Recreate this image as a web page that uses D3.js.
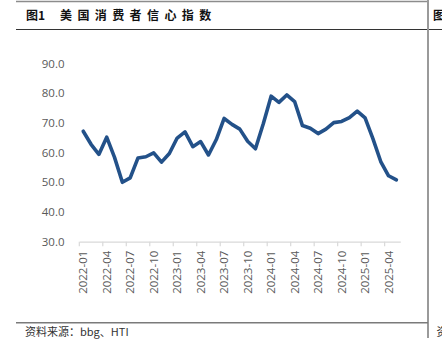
<!DOCTYPE html>
<html>
<head>
<meta charset="utf-8">
<script src="https://cdn.jsdelivr.net/npm/d3@7"></script>
<style>
  html, body { margin: 0; padding: 0; background: #fff; }
  svg { display: block; }
</style>
</head>
<body>
<svg id="chart" width="442" height="355"></svg>
<script>
// ---- data ----
const months = [
  "2022-01","2022-02","2022-03","2022-04","2022-05","2022-06","2022-07","2022-08","2022-09","2022-10","2022-11","2022-12",
  "2023-01","2023-02","2023-03","2023-04","2023-05","2023-06","2023-07","2023-08","2023-09","2023-10","2023-11","2023-12",
  "2024-01","2024-02","2024-03","2024-04","2024-05","2024-06","2024-07","2024-08","2024-09","2024-10","2024-11","2024-12",
  "2025-01","2025-02","2025-03","2025-04","2025-05"
];
const sentiment = [
  67.2, 62.8, 59.4, 65.2, 58.4, 50.0, 51.5, 58.2, 58.6, 59.9, 56.8, 59.7,
  64.9, 67.0, 62.0, 63.7, 59.2, 64.4, 71.5, 69.5, 67.9, 63.8, 61.3, 69.7,
  79.0, 76.9, 79.4, 77.2, 69.1, 68.2, 66.4, 67.9, 70.1, 70.5, 71.8, 74.0,
  71.7, 64.7, 57.0, 52.2, 50.8
];
const xTickLabels = ["2022-01","2022-04","2022-07","2022-10","2023-01","2023-04","2023-07","2023-10",
                     "2024-01","2024-04","2024-07","2024-10","2025-01","2025-04"];
const yTicks = [30, 40, 50, 60, 70, 80, 90];
const titleNum = "图1";
const titleText = "美国消费者信心指数";
const sourceText = "资料来源：bbg、HTI";

// ---- layout ----
const svg = d3.select("#chart");
const plot = { left: 79.3, right: 400.3, top: 63.5, bottom: 241.7 };

// frame lines
svg.append("line").attr("x1", 16).attr("x2", 428).attr("y1", 1.5).attr("y2", 1.5)
  .attr("stroke", "#8c8c8c").attr("stroke-width", 1.5);
svg.append("line").attr("x1", 16).attr("x2", 442).attr("y1", 29.5).attr("y2", 29.5)
  .attr("stroke", "#333").attr("stroke-width", 1.2);
svg.append("line").attr("x1", 428).attr("x2", 428).attr("y1", 0).attr("y2", 338)
  .attr("stroke", "#9a9a9a").attr("stroke-width", 2);
svg.append("line").attr("x1", 16).attr("x2", 428).attr("y1", 322.7).attr("y2", 322.7)
  .attr("stroke", "#7a7a7a").attr("stroke-width", 1.5);

// title
svg.append("text").attr("x", 26).attr("y", 19.5)
  .attr("font-family", "'Noto Sans CJK SC', sans-serif").attr("font-weight", "bold")
  .attr("font-size", "12px").attr("fill", "#111").text(titleNum);
svg.append("text").attr("x", 60).attr("y", 19.5)
  .attr("font-family", "'Noto Sans CJK SC', sans-serif").attr("font-weight", "bold")
  .attr("font-size", "12px").attr("letter-spacing", "5.4px").attr("fill", "#111").text(titleText);
// next panel fragments (cut off at the right edge, as in the reference)
svg.append("text").attr("x", 433).attr("y", 19.5)
  .attr("font-family", "'Noto Sans CJK SC', sans-serif").attr("font-weight", "bold")
  .attr("font-size", "12px").attr("fill", "#111").text("图");
svg.append("text").attr("x", 436.5).attr("y", 336)
  .attr("font-family", "'Noto Sans CJK SC', sans-serif")
  .attr("font-size", "11px").attr("fill", "#333").text("资");

// source
svg.append("text").attr("x", 25).attr("y", 336)
  .attr("font-family", "'Noto Sans CJK SC', sans-serif")
  .attr("font-size", "11px").attr("fill", "#333").text(sourceText);

// scales
const x = d3.scaleBand().domain(months).range([plot.left, plot.right]).padding(0);
const y = d3.scaleLinear().domain([30, 90]).range([plot.bottom, plot.top]);
const cx = m => x(m) + x.bandwidth() / 2;

// y axis (labels only)
const yAxis = d3.axisLeft(y).tickValues(yTicks).tickFormat(d3.format(".1f")).tickSize(0).tickPadding(0);
const yg = svg.append("g").attr("transform", "translate(64.5,0)").call(yAxis);
yg.select(".domain").remove();
yg.selectAll("text").attr("font-family", "'Open Sans', sans-serif").attr("font-size", "11.5px")
  .attr("fill", "#595959").attr("x", 0);

// x axis
const xAxis = d3.axisBottom(x).tickValues(xTickLabels).tickSize(0).tickSizeOuter(0);
const xg = svg.append("g").attr("transform", `translate(0,${plot.bottom})`).call(xAxis);
xg.select(".domain").attr("stroke", "#d9d9d9").attr("stroke-width", 1.2);
xg.selectAll(".tick line").remove();
xg.selectAll(".tick text")
  .attr("font-family", "'Open Sans', sans-serif").attr("font-size", "11.5px").attr("fill", "#595959")
  .attr("transform", "rotate(-90)")
  .attr("text-anchor", "end")
  .attr("x", -9).attr("y", 0).attr("dy", "0.35em");
// boundary tick marks (ticks between categories)
xg.selectAll(".tick")
  .append("line")
  .attr("x1", -x.bandwidth() / 2).attr("x2", -x.bandwidth() / 2)
  .attr("y1", 0).attr("y2", 4.5)
  .attr("stroke", "#d9d9d9").attr("stroke-width", 1.2);

// line
const line = d3.line().x((d, i) => cx(months[i])).y(d => y(d)).curve(d3.curveLinear);
svg.append("path").datum(sentiment)
  .attr("d", line)
  .attr("fill", "none")
  .attr("stroke", "#235189")
  .attr("stroke-width", 3.6)
  .attr("stroke-linejoin", "round")
  .attr("stroke-linecap", "round");
</script>
</body>
</html>
